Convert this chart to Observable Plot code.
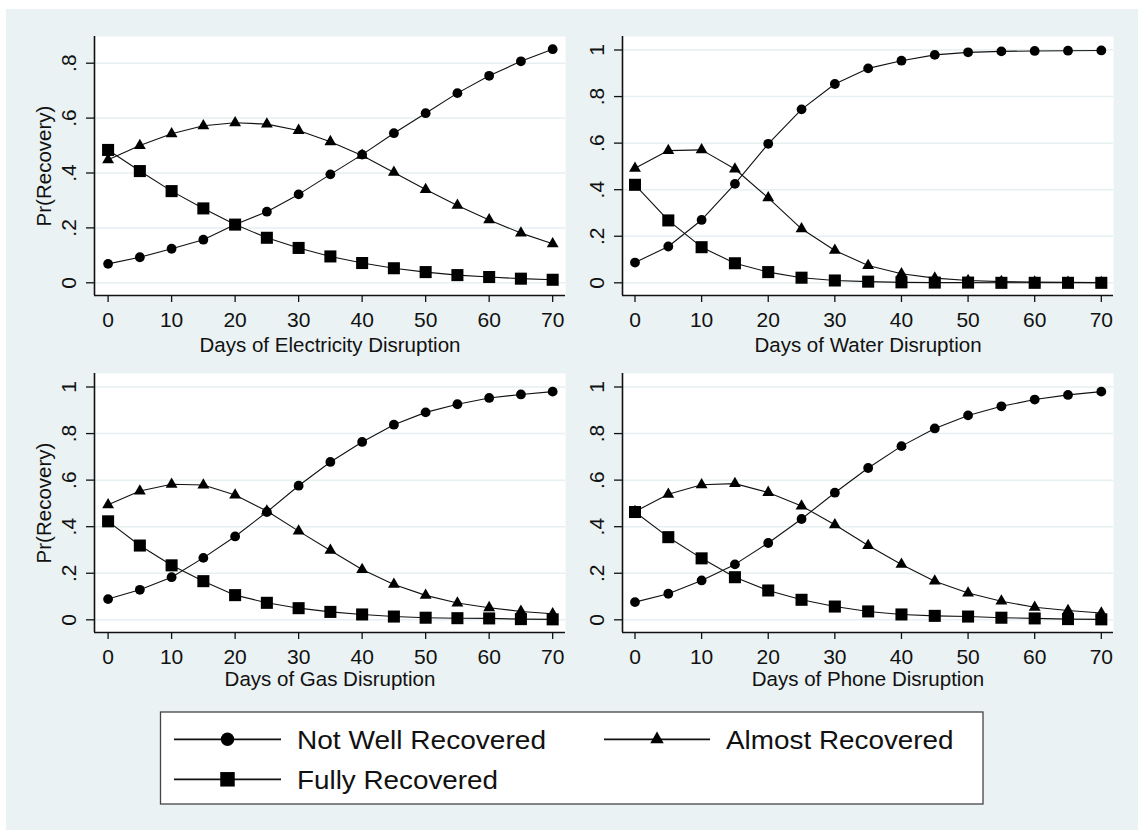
<!DOCTYPE html>
<html><head><meta charset="utf-8">
<script src="https://cdn.jsdelivr.net/npm/d3@7"></script>
<script src="https://cdn.jsdelivr.net/npm/@observablehq/plot@0.6"></script>
<style>
body{margin:0;background:#fff;}
#wrap{position:relative;width:1138px;height:830px;background:#fff;overflow:hidden;font-family:"Liberation Sans",Arial,sans-serif;}
#bg{position:absolute;left:6px;top:9px;right:0;bottom:0;background:#eaf2f3;}
</style></head><body><div id="wrap"><div id="bg"></div></div>
<script>
// ---- data ----
const days = [0,5,10,15,20,25,30,35,40,45,50,55,60,65,70];
const seriesNames = ["Not Well Recovered","Almost Recovered","Fully Recovered"];
const panelTitles = ["Days of Electricity Disruption","Days of Water Disruption","Days of Gas Disruption","Days of Phone Disruption"];
const yAxisTitle = "Pr(Recovery)";
const xTicks = [0,10,20,30,40,50,60,70];
const yTickValues = [0,0.2,0.4,0.6,0.8,1];
const yTickText = ["0",".2",".4",".6",".8","1"];

const elecNotWell = [0.069,0.093,0.124,0.157,0.212,0.259,0.322,0.395,0.467,0.545,0.618,0.691,0.754,0.807,0.851];
const elecAlmost  = [0.448,0.500,0.543,0.572,0.583,0.578,0.555,0.514,0.464,0.402,0.340,0.282,0.229,0.181,0.142];
const elecFully   = [0.484,0.407,0.334,0.271,0.212,0.164,0.127,0.096,0.072,0.053,0.039,0.028,0.021,0.015,0.011];

const waterNotWell = [0.087,0.156,0.270,0.425,0.597,0.745,0.854,0.921,0.954,0.979,0.990,0.994,0.996,0.997,0.998];
const waterAlmost  = [0.492,0.568,0.571,0.489,0.365,0.232,0.139,0.074,0.039,0.020,0.010,0.005,0.003,0.002,0.001];
const waterFully   = [0.421,0.268,0.153,0.084,0.046,0.022,0.010,0.005,0.002,0.001,0.001,0.000,0.000,0.000,0.000];

const gasNotWell = [0.089,0.129,0.183,0.266,0.358,0.463,0.576,0.678,0.764,0.838,0.891,0.926,0.953,0.968,0.980];
const gasAlmost  = [0.494,0.553,0.582,0.579,0.536,0.467,0.381,0.298,0.216,0.152,0.105,0.072,0.052,0.036,0.026];
const gasFully   = [0.423,0.319,0.234,0.166,0.106,0.073,0.050,0.034,0.023,0.014,0.009,0.007,0.006,0.003,0.002];

const phoneNotWell = [0.076,0.112,0.169,0.238,0.330,0.433,0.546,0.652,0.746,0.822,0.878,0.917,0.946,0.966,0.980];
const phoneAlmost  = [0.465,0.539,0.580,0.585,0.547,0.489,0.408,0.319,0.238,0.166,0.115,0.080,0.054,0.040,0.029];
const phoneFully   = [0.463,0.355,0.264,0.183,0.126,0.086,0.057,0.036,0.023,0.017,0.014,0.009,0.006,0.003,0.002];

// ---- drawing ----
const FONT = "'Liberation Sans', Arial, sans-serif";
const wrap = document.getElementById("wrap");
const symbolSpec = [
  {symbol: "circle", r: 4.9},
  {symbol: "triangle", r: 4.4},
  {symbol: "square", r: 6.8}
];

function panel(cfg) {
  const series = [cfg.a, cfg.b, cfg.c];
  const rows = [];
  seriesNames.forEach((s, k) => days.forEach((d, i) => rows.push({series: s, day: d, p: series[k][i]})));
  const ticks = yTickValues.filter(v => v <= cfg.yDomain[1]);
  const marks = [
    Plot.frame({fill: "white", stroke: "none"}),
    Plot.gridY(ticks, {stroke: "#e6eff1", strokeOpacity: 1, strokeWidth: 1.5}),
    Plot.axisX({ticks: xTicks, tickSize: 7, tickPadding: 10, fontSize: 21, label: null, color: "#111", strokeWidth: 1.3}),
    Plot.axisY({ticks, tickSize: 8, tickPadding: 11, tickRotate: -90, textAnchor: "middle", lineAnchor: "bottom",
      tickFormat: v => yTickText[yTickValues.indexOf(v)], fontSize: 21, label: null, color: "#111", strokeWidth: 1.3}),
    Plot.ruleX([cfg.xDomain[0]], {stroke: "#111", strokeWidth: 1.6}),
    Plot.ruleY([cfg.yDomain[0]], {stroke: "#111", strokeWidth: 1.6})
  ];
  seriesNames.forEach((s, k) => {
    const sub = rows.filter(r => r.series === s);
    marks.push(Plot.line(sub, {x: "day", y: "p", stroke: "#111", strokeWidth: 1.1}));
    marks.push(Plot.dot(sub, {x: "day", y: "p", symbol: symbolSpec[k].symbol, r: symbolSpec[k].r, fill: "#000", stroke: "none"}));
  });
  marks.push(Plot.text([cfg.title], {text: d => d, frameAnchor: "bottom", dy: cfg.titleDy, lineAnchor: "bottom", fontSize: 20.5, fill: "#111"}));
  if (cfg.ylabel) marks.push(Plot.text([cfg.ylabel], {text: d => d, frameAnchor: "left", rotate: -90, dx: -44, textAnchor: "middle", lineAnchor: "bottom", fontSize: 20.5, fill: "#111"}));
  const svg = Plot.plot({
    width: cfg.width, height: cfg.height,
    marginLeft: cfg.ml, marginRight: cfg.mr, marginTop: cfg.mt, marginBottom: cfg.mb,
    x: {domain: cfg.xDomain}, y: {domain: cfg.yDomain},
    style: {background: "transparent", overflow: "visible", fontFamily: FONT, position: "absolute", left: cfg.left + "px", top: cfg.top + "px"},
    marks
  });
  svg.style.position = "absolute";
  svg.style.left = cfg.left + "px";
  svg.style.top = cfg.top + "px";
  wrap.appendChild(svg);
}

const xL = [-2.14, 72.02], xR = [-1.876, 71.83];
const yE = [-0.0463, 0.8973], yO = [-0.0545, 1.058];
panel({left: 0, top: 0, width: 570, height: 356, ml: 94, mr: 5, mt: 36, mb: 61, xDomain: xL, yDomain: yE,
  a: elecNotWell, b: elecAlmost, c: elecFully, title: panelTitles[0], ylabel: yAxisTitle, titleDy: 56});
panel({left: 570, top: 0, width: 568, height: 356, ml: 52, mr: 25, mt: 36, mb: 61, xDomain: xR, yDomain: yO,
  a: waterNotWell, b: waterAlmost, c: waterFully, title: panelTitles[1], ylabel: null, titleDy: 56});
panel({left: 0, top: 356, width: 570, height: 344, ml: 94, mr: 5, mt: 17, mb: 68, xDomain: xL, yDomain: yO,
  a: gasNotWell, b: gasAlmost, c: gasFully, title: panelTitles[2], ylabel: yAxisTitle, titleDy: 53});
panel({left: 570, top: 356, width: 568, height: 344, ml: 52, mr: 25, mt: 17, mb: 68, xDomain: xR, yDomain: yO,
  a: phoneNotWell, b: phoneAlmost, c: phoneFully, title: panelTitles[3], ylabel: null, titleDy: 53});

// ---- legend ----
const lg = d3.create("svg").attr("width", 1138).attr("height", 130)
  .style("position", "absolute").style("left", "0px").style("top", "700px").style("overflow", "visible");
lg.append("rect").attr("x", 160.5).attr("y", 12).attr("width", 822.5).attr("height", 92)
  .attr("fill", "white").attr("stroke", "#444").attr("stroke-width", 1.3);
const legendPos = [{x0: 174, x1: 281, y: 39.3, w: 249}, {x0: 604, x1: 710, y: 39.3, w: 227.6}, {x0: 174, x1: 281, y: 79.3, w: 201}];
const legendSym = [d3.symbolCircle, d3.symbolTriangle, d3.symbolSquare];
const legendSize = [141, 78, 210];
seriesNames.forEach((s, k) => {
  const p = legendPos[k];
  lg.append("line").attr("x1", p.x0).attr("x2", p.x1).attr("y1", p.y).attr("y2", p.y).attr("stroke", "#111").attr("stroke-width", 1.7);
  lg.append("path").attr("d", d3.symbol(legendSym[k], legendSize[k])()).attr("transform", `translate(${(p.x0 + p.x1) / 2},${p.y})`).attr("fill", "#000");
  lg.append("text").attr("x", p.x1 + 16).attr("y", p.y + 9.7).attr("font-size", 26).attr("font-family", FONT).attr("fill", "#111")
    .attr("textLength", p.w).attr("lengthAdjust", "spacingAndGlyphs").text(s);
});
wrap.appendChild(lg.node());
</script></body></html>
